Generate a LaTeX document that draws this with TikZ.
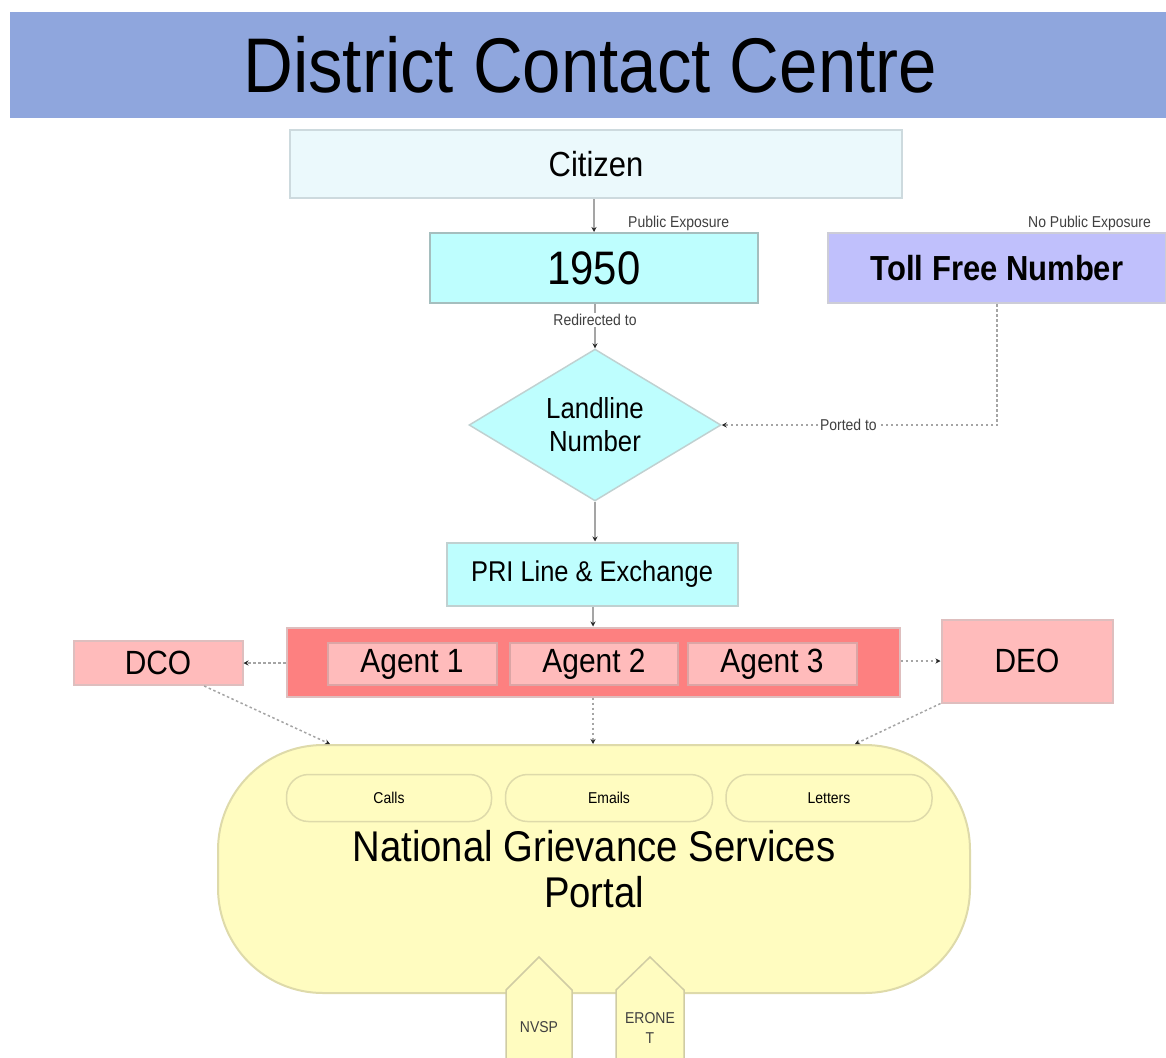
\documentclass[tikz,border=0pt]{standalone}
\usepackage{fontspec}
\setmainfont{Liberation Sans}[FakeStretch=0.89]
\usetikzlibrary{arrows.meta,shapes.geometric,calc}
\definecolor{titlebar}{RGB}{143,166,221}
\definecolor{citfill}{RGB}{235,249,252}
\definecolor{citline}{RGB}{205,218,222}
\definecolor{cyanfill}{RGB}{190,254,254}
\definecolor{cyanline}{RGB}{165,190,190}
\definecolor{tollfill}{RGB}{192,192,252}
\definecolor{tollline}{RGB}{205,205,215}
\definecolor{redfill}{RGB}{253,128,128}
\definecolor{redline}{RGB}{222,190,190}
\definecolor{pinkfill}{RGB}{255,187,187}
\definecolor{pinkline}{RGB}{220,165,165}
\definecolor{yelfill}{RGB}{255,252,192}
\definecolor{yelline}{RGB}{222,218,170}
\definecolor{connc}{RGB}{165,165,165}
\definecolor{tipc}{RGB}{40,40,40}
\tikzset{
  box/.style={draw, line width=2pt, inner sep=0pt, anchor=center},
  fs/.style={font=\fontsize{#1}{#1}\selectfont},
  lbl/.style={fill=white, inner sep=1pt, text=black!75, font=\fontsize{15.7}{15.7}\selectfont},
  conn/.style={draw=connc, line width=1.5pt, -{Stealth[length=5pt,width=5pt,color=tipc]}},
  dotconn/.style={conn, dash pattern=on 2.5pt off 2.5pt},
}
\begin{document}
\begin{tikzpicture}[x=1pt,y=-1pt]
\useasboundingbox (0,0) rectangle (1166,1057);
% title
\node[fill=titlebar, inner sep=0pt, minimum width=1160, minimum height=106, anchor=north west, fs=77.5] (title) at (10,12) {District Contact Centre};
% boxes
\node[box, draw=citline, fill=citfill, minimum width=612, minimum height=68, fs=34.8] (citizen) at (596,164) {Citizen};
\node[box, draw=cyanline, fill=cyanfill, minimum width=328, minimum height=70, fs=47] (n1950) at (594,268) {1950};
\node[box, draw=tollline, fill=tollfill, minimum width=338, minimum height=70, font=\bfseries\fontsize{34.8}{34.8}\selectfont] (toll) at (997,268) {Toll Free Number};
\node[box, diamond, draw=cyanline!70, line width=1.5pt, fill=cyanfill, minimum width=252, minimum height=150, align=center, font=\fontsize{29}{33}\selectfont] (land) at (595,425) {Landline\\Number};
\node[box, draw=cyanline!70, fill=cyanfill, minimum width=291, minimum height=63, fs=28.6] (pri) at (592,574) {PRI Line \& Exchange};
\node[box, draw=redline, fill=redfill, minimum width=613, minimum height=69] (agents) at (593,662) {};
\node[box, draw=pinkline, fill=pinkfill, minimum width=169, minimum height=42, fs=33.6] (a1) at (412,664) {Agent 1};
\node[box, draw=pinkline, fill=pinkfill, minimum width=168, minimum height=42, fs=33.6] (a2) at (594,664) {Agent 2};
\node[box, draw=pinkline, fill=pinkfill, minimum width=169, minimum height=42, fs=33.6] (a3) at (772,664) {Agent 3};
\node[box, draw=redline, fill=pinkfill, minimum width=169, minimum height=44, fs=33.6] (dco) at (158,663) {DCO};
\node[box, draw=redline, fill=pinkfill, minimum width=171, minimum height=83, fs=33.6] (deo) at (1027,661) {DEO};
% portal
\node[box, draw=yelline, fill=yelfill, minimum width=752, minimum height=248, rounded corners=105pt] (portal) at (594,869) {};
\node[box, draw=yelline, line width=1.5pt, fill=yelfill, minimum width=205, minimum height=47, rounded corners=22pt, fs=15.7] (calls) at (389,798) {Calls};
\node[box, draw=yelline, line width=1.5pt, fill=yelfill, minimum width=207, minimum height=47, rounded corners=22pt, fs=15.7] (emails) at (609,798) {Emails};
\node[box, draw=yelline, line width=1.5pt, fill=yelfill, minimum width=206, minimum height=47, rounded corners=22pt, fs=15.7] (letters) at (829,798) {Letters};
\node[align=center, inner sep=0pt, font=\fontsize{43}{46}\selectfont] (ngsp) at (594,869) {National Grievance Services\\Portal};
% pentagons
\draw[fill=yelfill, draw=yelline!85!gray, line width=1.5pt] (506,1062) -- (506,990) -- (539,957) -- (572,990) -- (572,1062);
\draw[fill=yelfill, draw=yelline!85!gray, line width=1.5pt] (616,1062) -- (616,990) -- (650,957) -- (684,990) -- (684,1062);
\node[inner sep=0pt, text=black!75, fs=15.7] (nvsp) at (539,1027) {NVSP};
\node[inner sep=0pt, align=center, text=black!75, font=\fontsize{15.7}{20}\selectfont] (eronet) at (650,1028) {ERONE\\T};
% connectors
\draw[conn] (citizen.south -| n1950.north) -- (n1950.north);
\node[inner sep=0pt, text=black!75, anchor=west, fs=15.7] (pubexp) at (628,223) {Public Exposure};
\node[inner sep=0pt, text=black!75, anchor=west, fs=15.7] (nopubexp) at (1028,223) {No Public Exposure};
\draw[conn] (n1950.south -| land.north) -- node[lbl, pos=0.36] (redir) {Redirected to} (land.north);
\draw[dotconn] (toll.south) |- node[lbl, pos=0.77] (ported) {Ported to} (land.east);
\draw[conn] (land.south) -- (land.south |- pri.north);
\draw[conn] (pri.south -| agents.north) -- (agents.north);
\draw[dotconn] (agents.west |- dco.east) -- (dco.east);
\draw[dotconn] (agents.east |- deo.west) -- (deo.west);
\draw[dotconn] (agents.south) -- (portal.north -| agents.south);
\draw[dotconn] ($(dco.south west)!0.77!(dco.south east)$) -- ($(portal.north)+(-264,0)$);
\draw[dotconn] (deo.south west) -- ($(portal.north)+(261,0)$);
\end{tikzpicture}
\end{document}
